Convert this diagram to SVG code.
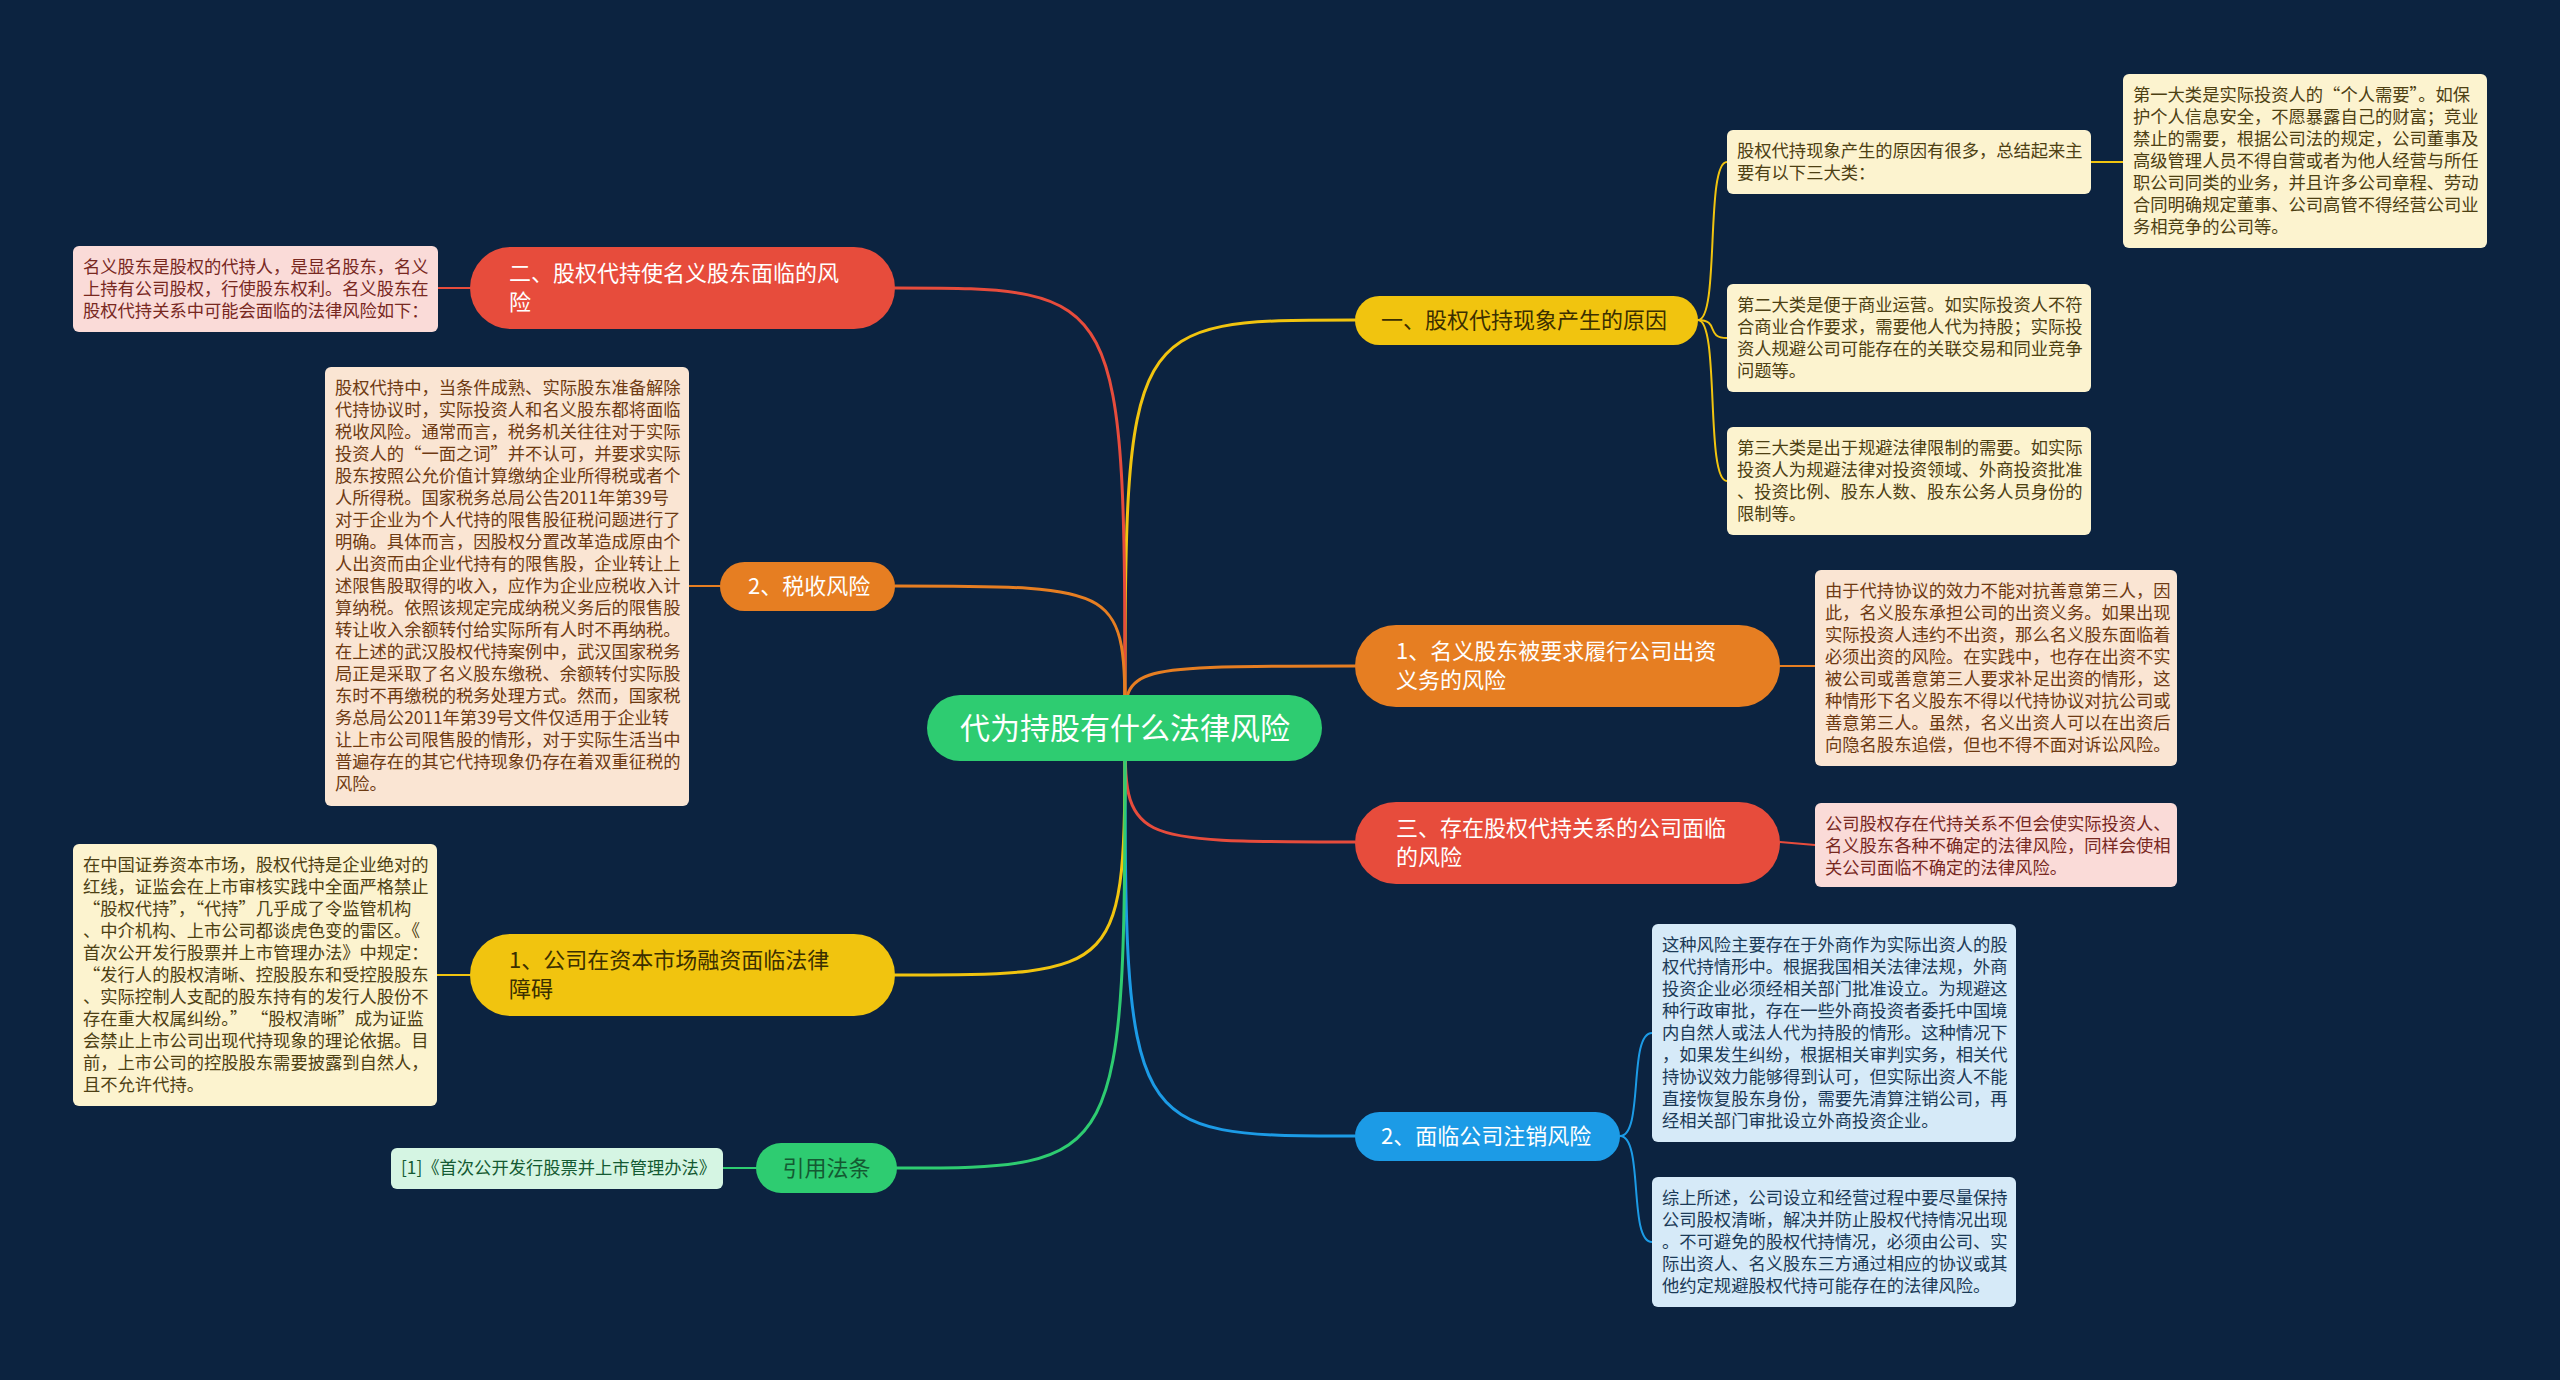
<svg xmlns="http://www.w3.org/2000/svg" width="2560" height="1380" viewBox="0 0 2560 1380">
<style>
text{font-family:"Noto Sans CJK SC","Noto Sans",sans-serif}
.lt{font-size:17.3px}
.bt{font-size:22px}
.ct{font-size:30px;fill:#ffffff;text-anchor:middle}
.main{fill:none;stroke-width:3;stroke-linecap:round}
.sub{fill:none;stroke-width:2;stroke-linecap:round}
.y{stroke:#f1c40f}.r{stroke:#e74c3c}.o{stroke:#e67e22}.b{stroke:#1c9be6}.g{stroke:#2ecc71}
.ly{fill:#fcf3cf}.lr{fill:#fadbd8}.lo{fill:#fae5d3}.lb{fill:#d6eaf8}.lg{fill:#d5f5e3}
.tly{fill:#4d4013}.tlr{fill:#78281f}.tlo{fill:#6e3a12}.tlb{fill:#1b3a57}.tlg{fill:#145a32}
</style>
<rect x="0" y="0" width="2560" height="1380" fill="#0c2340"/>
<g id="connectors">
<path class="main y" d="M1125 728 C1125 320,1125 320,1355 320"/>
<path class="main o" d="M1125 728 C1125 666,1125 666,1355 666"/>
<path class="main r" d="M1125 728 C1125 842,1125 842,1355 842"/>
<path class="main b" d="M1125 728 C1125 1136,1125 1136,1355 1136"/>
<path class="main r" d="M1125 728 C1125 288,1125 288,895 288"/>
<path class="main o" d="M1125 728 C1125 586,1125 586,895 586"/>
<path class="main y" d="M1125 728 C1125 975,1125 975,895 975"/>
<path class="main g" d="M1125 728 C1125 1168,1125 1168,895 1168"/>
<path class="sub y" d="M1698 320 C1720 320,1705 162,1727 162"/>
<path class="sub y" d="M1698 320 C1720 320,1705 338,1727 338"/>
<path class="sub y" d="M1698 320 C1720 320,1705 481,1727 481"/>
<path class="sub y" d="M2091 162 L2123 162"/>
<path class="sub o" d="M1780 666 L1815 666"/>
<path class="sub r" d="M1780 842 L1815 845"/>
<path class="sub b" d="M1620 1136 C1644 1136,1628 1033,1652 1033"/>
<path class="sub b" d="M1620 1136 C1644 1136,1628 1242,1652 1242"/>
<path class="sub r" d="M470 288 L438 288"/>
<path class="sub o" d="M720 586 L689 586"/>
<path class="sub y" d="M470 975 L437 975"/>
<path class="sub g" d="M756 1168 L723 1168"/>
</g>
<g id="center">
<rect x="927" y="695" width="395" height="66" rx="33" fill="#2ecc71"/>
<text class="ct" x="1125" y="739">代为持股有什么法律风险</text>
</g>
<g id="b-reason">
<rect x="1355" y="296" width="343" height="49" rx="24.5" fill="#f1c40f"/>
<text class="bt" x="1381" y="328" fill="#3b2f00">一、股权代持现象产生的原因</text>
</g>
<g id="b-capital">
<rect x="1355" y="625" width="425" height="82" rx="41" fill="#e67e22"/>
<text class="bt" x="1396" y="659" fill="#ffffff">1、名义股东被要求履行公司出资</text>
<text class="bt" x="1396" y="688" fill="#ffffff">义务的风险</text>
</g>
<g id="b-company">
<rect x="1355" y="802" width="425" height="82" rx="41" fill="#e74c3c"/>
<text class="bt" x="1396" y="836" fill="#ffffff">三、存在股权代持关系的公司面临</text>
<text class="bt" x="1396" y="865" fill="#ffffff">的风险</text>
</g>
<g id="b-cancel">
<rect x="1355" y="1112" width="265" height="49" rx="24.5" fill="#1c9be6"/>
<text class="bt" x="1381" y="1144" fill="#ffffff">2、面临公司注销风险</text>
</g>
<g id="b-nominal">
<rect x="470" y="247" width="425" height="82" rx="41" fill="#e74c3c"/>
<text class="bt" x="509" y="281" fill="#ffffff">二、股权代持使名义股东面临的风</text>
<text class="bt" x="509" y="310" fill="#ffffff">险</text>
</g>
<g id="b-tax">
<rect x="720" y="562" width="175" height="49" rx="24.5" fill="#e67e22"/>
<text class="bt" x="748" y="594" fill="#ffffff">2、税收风险</text>
</g>
<g id="b-ipo">
<rect x="470" y="934" width="425" height="82" rx="41" fill="#f1c40f"/>
<text class="bt" x="509" y="968" fill="#3b2f00">1、公司在资本市场融资面临法律</text>
<text class="bt" x="509" y="997" fill="#3b2f00">障碍</text>
</g>
<g id="b-cite">
<rect x="756" y="1143" width="141" height="50" rx="25" fill="#2ecc71"/>
<text class="bt" x="826.5" y="1176" fill="#145a32" text-anchor="middle">引用法条</text>
</g>
<g id="l-reason0">
<rect x="1727" y="130" width="364" height="64" rx="6" class="ly"/>
<text class="lt tly" x="1737" y="157">股权代持现象产生的原因有很多，总结起来主</text>
<text class="lt tly" x="1737" y="179">要有以下三大类：</text>
</g>
<g id="l-reason1">
<rect x="2123" y="74" width="364" height="174" rx="6" class="ly"/>
<text class="lt tly" x="2133" y="101">第一大类是实际投资人的“个人需要”。如保</text>
<text class="lt tly" x="2133" y="123">护个人信息安全，不愿暴露自己的财富；竞业</text>
<text class="lt tly" x="2133" y="145">禁止的需要，根据公司法的规定，公司董事及</text>
<text class="lt tly" x="2133" y="167">高级管理人员不得自营或者为他人经营与所任</text>
<text class="lt tly" x="2133" y="189">职公司同类的业务，并且许多公司章程、劳动</text>
<text class="lt tly" x="2133" y="211">合同明确规定董事、公司高管不得经营公司业</text>
<text class="lt tly" x="2133" y="233">务相竞争的公司等。</text>
</g>
<g id="l-reason2">
<rect x="1727" y="284" width="364" height="108" rx="6" class="ly"/>
<text class="lt tly" x="1737" y="311">第二大类是便于商业运营。如实际投资人不符</text>
<text class="lt tly" x="1737" y="333">合商业合作要求，需要他人代为持股；实际投</text>
<text class="lt tly" x="1737" y="355">资人规避公司可能存在的关联交易和同业竞争</text>
<text class="lt tly" x="1737" y="377">问题等。</text>
</g>
<g id="l-reason3">
<rect x="1727" y="427" width="364" height="108" rx="6" class="ly"/>
<text class="lt tly" x="1737" y="454">第三大类是出于规避法律限制的需要。如实际</text>
<text class="lt tly" x="1737" y="476">投资人为规避法律对投资领域、外商投资批准</text>
<text class="lt tly" x="1737" y="498">、投资比例、股东人数、股东公务人员身份的</text>
<text class="lt tly" x="1737" y="520">限制等。</text>
</g>
<g id="l-capital">
<rect x="1815" y="570" width="362" height="196" rx="6" class="lo"/>
<text class="lt tlo" x="1825" y="597">由于代持协议的效力不能对抗善意第三人，因</text>
<text class="lt tlo" x="1825" y="619">此，名义股东承担公司的出资义务。如果出现</text>
<text class="lt tlo" x="1825" y="641">实际投资人违约不出资，那么名义股东面临着</text>
<text class="lt tlo" x="1825" y="663">必须出资的风险。在实践中，也存在出资不实</text>
<text class="lt tlo" x="1825" y="685">被公司或善意第三人要求补足出资的情形，这</text>
<text class="lt tlo" x="1825" y="707">种情形下名义股东不得以代持协议对抗公司或</text>
<text class="lt tlo" x="1825" y="729">善意第三人。虽然，名义出资人可以在出资后</text>
<text class="lt tlo" x="1825" y="751">向隐名股东追偿，但也不得不面对诉讼风险。</text>
</g>
<g id="l-company">
<rect x="1815" y="803" width="362" height="84" rx="6" class="lr"/>
<text class="lt tlr" x="1825" y="830">公司股权存在代持关系不但会使实际投资人、</text>
<text class="lt tlr" x="1825" y="852">名义股东各种不确定的法律风险，同样会使相</text>
<text class="lt tlr" x="1825" y="874">关公司面临不确定的法律风险。</text>
</g>
<g id="l-cancel1">
<rect x="1652" y="924" width="364" height="218" rx="6" class="lb"/>
<text class="lt tlb" x="1662" y="951">这种风险主要存在于外商作为实际出资人的股</text>
<text class="lt tlb" x="1662" y="973">权代持情形中。根据我国相关法律法规，外商</text>
<text class="lt tlb" x="1662" y="995">投资企业必须经相关部门批准设立。为规避这</text>
<text class="lt tlb" x="1662" y="1017">种行政审批，存在一些外商投资者委托中国境</text>
<text class="lt tlb" x="1662" y="1039">内自然人或法人代为持股的情形。这种情况下</text>
<text class="lt tlb" x="1662" y="1061">，如果发生纠纷，根据相关审判实务，相关代</text>
<text class="lt tlb" x="1662" y="1083">持协议效力能够得到认可，但实际出资人不能</text>
<text class="lt tlb" x="1662" y="1105">直接恢复股东身份，需要先清算注销公司，再</text>
<text class="lt tlb" x="1662" y="1127">经相关部门审批设立外商投资企业。</text>
</g>
<g id="l-cancel2">
<rect x="1652" y="1177" width="364" height="130" rx="6" class="lb"/>
<text class="lt tlb" x="1662" y="1204">综上所述，公司设立和经营过程中要尽量保持</text>
<text class="lt tlb" x="1662" y="1226">公司股权清晰，解决并防止股权代持情况出现</text>
<text class="lt tlb" x="1662" y="1248">。不可避免的股权代持情况，必须由公司、实</text>
<text class="lt tlb" x="1662" y="1270">际出资人、名义股东三方通过相应的协议或其</text>
<text class="lt tlb" x="1662" y="1292">他约定规避股权代持可能存在的法律风险。</text>
</g>
<g id="l-nominal">
<rect x="73" y="246" width="365" height="86" rx="6" class="lr"/>
<text class="lt tlr" x="83" y="273">名义股东是股权的代持人，是显名股东，名义</text>
<text class="lt tlr" x="83" y="295">上持有公司股权，行使股东权利。名义股东在</text>
<text class="lt tlr" x="83" y="317">股权代持关系中可能会面临的法律风险如下：</text>
</g>
<g id="l-tax">
<rect x="325" y="367" width="364" height="439" rx="6" class="lo"/>
<text class="lt tlo" x="335" y="394">股权代持中，当条件成熟、实际股东准备解除</text>
<text class="lt tlo" x="335" y="416">代持协议时，实际投资人和名义股东都将面临</text>
<text class="lt tlo" x="335" y="438">税收风险。通常而言，税务机关往往对于实际</text>
<text class="lt tlo" x="335" y="460">投资人的“一面之词”并不认可，并要求实际</text>
<text class="lt tlo" x="335" y="482">股东按照公允价值计算缴纳企业所得税或者个</text>
<text class="lt tlo" x="335" y="504">人所得税。国家税务总局公告2011年第39号</text>
<text class="lt tlo" x="335" y="526">对于企业为个人代持的限售股征税问题进行了</text>
<text class="lt tlo" x="335" y="548">明确。具体而言，因股权分置改革造成原由个</text>
<text class="lt tlo" x="335" y="570">人出资而由企业代持有的限售股，企业转让上</text>
<text class="lt tlo" x="335" y="592">述限售股取得的收入，应作为企业应税收入计</text>
<text class="lt tlo" x="335" y="614">算纳税。依照该规定完成纳税义务后的限售股</text>
<text class="lt tlo" x="335" y="636">转让收入余额转付给实际所有人时不再纳税。</text>
<text class="lt tlo" x="335" y="658">在上述的武汉股权代持案例中，武汉国家税务</text>
<text class="lt tlo" x="335" y="680">局正是采取了名义股东缴税、余额转付实际股</text>
<text class="lt tlo" x="335" y="702">东时不再缴税的税务处理方式。然而，国家税</text>
<text class="lt tlo" x="335" y="724">务总局公2011年第39号文件仅适用于企业转</text>
<text class="lt tlo" x="335" y="746">让上市公司限售股的情形，对于实际生活当中</text>
<text class="lt tlo" x="335" y="768">普遍存在的其它代持现象仍存在着双重征税的</text>
<text class="lt tlo" x="335" y="790">风险。</text>
</g>
<g id="l-ipo">
<rect x="73" y="844" width="364" height="262" rx="6" class="ly"/>
<text class="lt tly" x="83" y="871">在中国证券资本市场，股权代持是企业绝对的</text>
<text class="lt tly" x="83" y="893">红线，证监会在上市审核实践中全面严格禁止</text>
<text class="lt tly" x="83" y="915">“股权代持”，“代持”几乎成了令监管机构</text>
<text class="lt tly" x="83" y="937">、中介机构、上市公司都谈虎色变的雷区。《</text>
<text class="lt tly" x="83" y="959">首次公开发行股票并上市管理办法》中规定：</text>
<text class="lt tly" x="83" y="981">“发行人的股权清晰、控股股东和受控股股东</text>
<text class="lt tly" x="83" y="1003">、实际控制人支配的股东持有的发行人股份不</text>
<text class="lt tly" x="83" y="1025">存在重大权属纠纷。” “股权清晰”成为证监</text>
<text class="lt tly" x="83" y="1047">会禁止上市公司出现代持现象的理论依据。目</text>
<text class="lt tly" x="83" y="1069">前，上市公司的控股股东需要披露到自然人，</text>
<text class="lt tly" x="83" y="1091">且不允许代持。</text>
</g>
<g id="l-cite">
<rect x="391" y="1148" width="332" height="41" rx="6" class="lg"/>
<text class="lt tlg" x="401" y="1174">[1]《首次公开发行股票并上市管理办法》</text>
</g>
</svg>
